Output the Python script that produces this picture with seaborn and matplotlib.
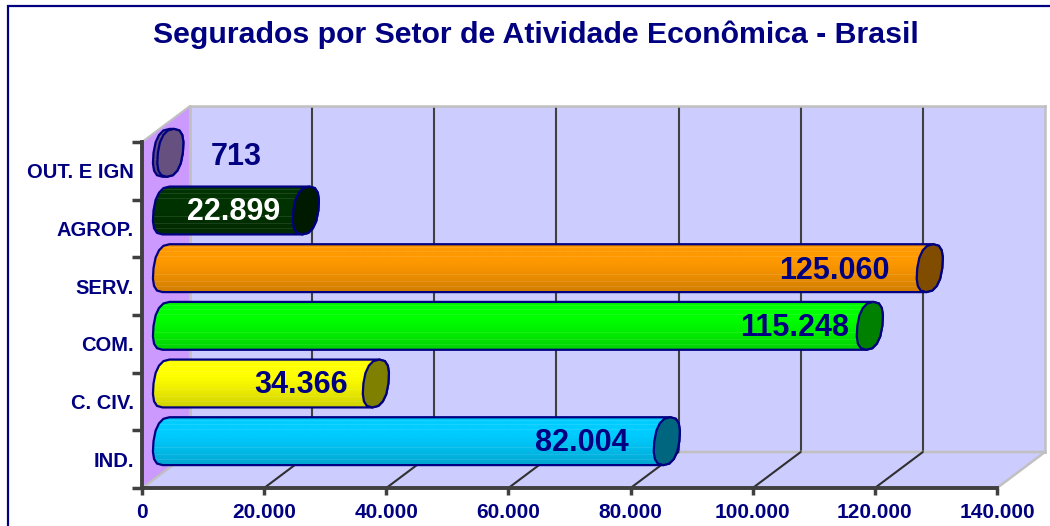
import numpy as np
import pandas as pd
import matplotlib
matplotlib.use('Agg')
import matplotlib.pyplot as plt
from matplotlib.patches import Polygon
import seaborn as sns

setores = ['OUT. E IGN', 'AGROP.', 'SERV.', 'COM.', 'C. CIV.', 'IND.']
segurados = [713, 22899, 125060, 115248, 34366, 82004]
rotulos = ['713', '22.899', '125.060', '115.248', '34.366', '82.004']
x_ticks = [0, 20000, 40000, 60000, 80000, 100000, 120000, 140000]
x_labels = ['0', '20.000', '40.000', '60.000', '80.000', '100.000', '120.000', '140.000']

cores = ['#665080', '#003300', '#FF9900', '#00FF00', '#FFFF00', '#00CCFF']
cores_tampa = ['#665080', '#001A00', '#804C00', '#008000', '#808000', '#006680']
cores_rotulo = ['#000080', 'white', '#000080', '#000080', '#000080', '#000080']
# label centres relative to the end of each bar, in pixels
rotulo_dx = [66, -72, -95, -75, -75, -85]
rotulo_dy = [4, 1, 3, 2, 1, 2]

NAVY = '#000080'
W, H = 1050, 526
X0, X1, Y_TOP, Y_BOT = 142, 997, 142, 488
DEPTH_X, DEPTH_Y = 48, 36

sns.set_theme(style='white')
plt.rcParams['font.family'] = ['Liberation Sans', 'DejaVu Sans']

fig = plt.figure(figsize=(W / 100, H / 100), dpi=100, facecolor='white')


def box(dx=0, dy=0):
    return [(X0 + dx) / W, (H - Y_BOT + dy) / H, (X1 - X0) / W, (Y_BOT - Y_TOP) / H]


# whole figure in pixels, for the frame
bg = fig.add_axes([0, 0, 1, 1], zorder=0)
bg.set_xlim(0, W)
bg.set_ylim(H, 0)
bg.axis('off')
bg.plot([8, 8, W], [H, 6, 6], color=NAVY, lw=1.6, solid_joinstyle='miter')

# back wall, shifted axes with the value grid
back = fig.add_axes(box(DEPTH_X, DEPTH_Y), zorder=1, facecolor='#CCCCFF')
back.set_xlim(0, 140000)
back.set_ylim(0, 1)
back.set_xticks(x_ticks[1:-1])
back.set_yticks([])
back.tick_params(bottom=False, labelbottom=False)
back.grid(axis='x', color='#404040', lw=1.5)
for s in back.spines.values():
    s.set_color('#C0C0C0')
    s.set_linewidth(1.8)

# side wall and floor
floor = fig.add_axes([0, 0, 1, 1], zorder=1.5)
floor.set_xlim(0, W)
floor.set_ylim(H, 0)
floor.axis('off')
floor.add_patch(Polygon([(X0, Y_BOT), (X0 + DEPTH_X, Y_BOT - DEPTH_Y), (X1 + DEPTH_X, Y_BOT - DEPTH_Y),
                         (X1, Y_BOT)], fc='#CCCCFF', ec='#C0C0C0', lw=1.8))
floor.add_patch(Polygon([(X0, Y_TOP), (X0 + DEPTH_X, Y_TOP - DEPTH_Y), (X0 + DEPTH_X, Y_BOT - DEPTH_Y),
                         (X0, Y_BOT)], fc='#CC99FF', ec='#C0C0C0', lw=1.5))
for v in x_ticks[1:-1]:
    px = X0 + v * (X1 - X0) / 140000
    floor.plot([px, px + DEPTH_X], [Y_BOT, Y_BOT - DEPTH_Y], color='#303030', lw=1.5)

# cylinders sit half way into the depth
df = pd.DataFrame({'setor': setores, 'segurados': segurados})
ax = fig.add_axes(box(DEPTH_X / 2, DEPTH_Y / 2), zorder=2)
sns.barplot(data=df, x='segurados', y='setor', hue='setor', order=setores, hue_order=setores,
            palette=cores, legend=False, width=0.83, saturation=1, ax=ax)
ax.patch.set_alpha(0)
ax.axis('off')

px_x = 140000 / (X1 - X0)     # value units per pixel
px_y = 6 / (Y_BOT - Y_TOP)    # category units per pixel
t = np.linspace(0, 2 * np.pi, 17)[:-1]


def gradient(cor):
    rgb = np.array(matplotlib.colors.to_rgb(cor))
    stops = np.interp(np.linspace(0, 1, 48), [0, 0.06, 0.35, 0.6, 1], [0.9, 1, 1, 0.94, 0.82])
    g = stops[:, None] * rgb
    for row in [3, 7, 12, 30, 37, 42]:
        g[row] = g[row] * 0.9 + 0.1
    return g[:, None, :]


for i, p in enumerate(ax.patches):
    val = p.get_width()
    yc = p.get_y() + p.get_height() / 2
    b = p.get_height() / 2
    # slanted, slightly squared ellipse for the ends
    ex = (12.5 * np.sign(np.cos(t)) * np.abs(np.cos(t)) ** 0.8 + 3.5 * np.sin(t)) * px_x
    ey = -b * np.sign(np.sin(t)) * np.abs(np.sin(t)) ** 0.85
    right_half = [j % 16 for j in range(12, 21)]
    left_half = list(range(4, 13))
    body = [(val + ex[j], yc + ey[j]) for j in right_half] + [(ex[j], yc + ey[j]) for j in left_half]
    shape = Polygon(body, closed=True, fc='none', ec=NAVY, lw=1.6, zorder=4, clip_on=False)
    ax.add_patch(shape)
    im = ax.imshow(gradient(cores[i]), extent=(-20 * px_x, val + 20 * px_x, yc + b, yc - b), aspect='auto',
                   zorder=3, interpolation='bilinear')
    im.set_clip_path(shape)
    im.set_clip_box(fig.bbox)
    p.set_clip_path(shape)
    p.set_clip_box(fig.bbox)
    ax.add_patch(Polygon(np.c_[val + ex, yc + ey], closed=True, fc=cores_tampa[i], ec=NAVY, lw=1.6, zorder=5,
                         clip_on=False))
    ax.text(val + rotulo_dx[i] * px_x, yc + rotulo_dy[i] * px_y, rotulos[i], color=cores_rotulo[i], fontsize=22,
            fontweight='bold', ha='center', va='center', zorder=6)
ax.set_xlim(0, 140000)
ax.set_ylim(5.5, -0.5)

# front axis with ticks and labels
front = fig.add_axes(box(), zorder=3)
front.patch.set_alpha(0)
front.set_xlim(0, 140000)
front.set_ylim(5.5, -0.5)
front.set_xticks(x_ticks)
front.set_xticklabels(x_labels, fontsize=15, fontweight='bold', color=NAVY)
front.set_yticks(range(6))
front.set_yticklabels(setores, fontsize=14.5, fontweight='bold', color=NAVY)
front.set_yticks(np.arange(-0.5, 6), minor=True)
front.tick_params(axis='y', which='major', length=0, pad=6)
front.tick_params(axis='y', which='minor', length=7, width=2.5, color='#404040', left=True)
front.tick_params(axis='x', length=5, width=2.5, color='#404040', pad=6, bottom=True)
for lab in ['top', 'right']:
    front.spines[lab].set_visible(False)
for lab in ['left', 'bottom']:
    front.spines[lab].set_color('#404040')
    front.spines[lab].set_linewidth(2.8)

fig.text(536 / W, 1 - 35 / H, 'Segurados por Setor de Atividade Econômica - Brasil', color=NAVY, fontsize=21.8,
         fontweight='bold', ha='center', va='center')

fig.savefig('out.png', dpi=100, facecolor='white')
